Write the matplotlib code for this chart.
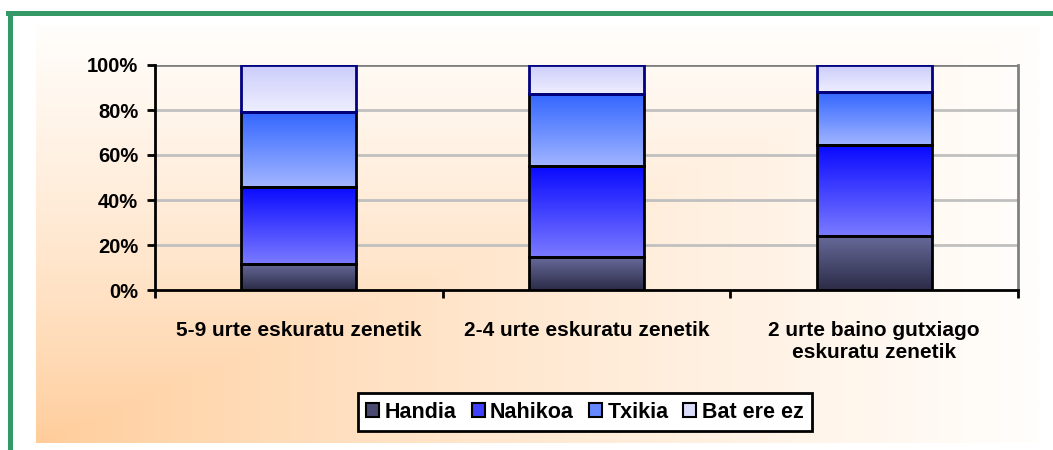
import numpy as np
import matplotlib.pyplot as plt
from matplotlib.patches import Patch
from matplotlib.colors import LinearSegmentedColormap

plt.rcParams['font.family'] = ['Liberation Sans', 'DejaVu Sans']
plt.rcParams['font.weight'] = 'bold'

categories = ['5-9 urte eskuratu zenetik', '2-4 urte eskuratu zenetik',
              '2 urte baino gutxiago\neskuratu zenetik']
series = ['Handia', 'Nahikoa', 'Txikia', 'Bat ere ez']
handia = [11.6, 14.6, 24.2]
nahikoa = [34.4, 40.3, 40.3]
txikia = [33.2, 32.0, 23.6]
bat_ere_ez = [20.8, 13.1, 11.9]
yticks = [0, 20, 40, 60, 80, 100]

# gradient (top colour, bottom colour) and edge per series
grad = {
    'Handia': ('#676a9a', '#2c2c48'),
    'Nahikoa': ('#0a0aff', '#7a7aff'),
    'Txikia': ('#3366ff', '#a0b4ff'),
    'Bat ere ez': ('#cccdfa', '#eeeeff'),
}
edges = {'Handia': 'black', 'Nahikoa': 'black', 'Txikia': 'black', 'Bat ere ez': '#000080'}
mids = {'Handia': '#4a4a70', 'Nahikoa': '#4040ff', 'Txikia': '#6688ff', 'Bat ere ez': '#dcdcfc'}

fig = plt.figure(figsize=(10.53, 4.5), dpi=100)

# background panel with corner gradient
bg = fig.add_axes([36 / 1053, 1 - 443 / 450, (1040 - 36) / 1053, (443 - 25) / 450])
bg.set_axis_off()
xx, yy = np.meshgrid(np.linspace(0, 1, 300), np.linspace(0, 1, 150))
t = np.maximum(xx, 1 - yy)  # row 0 is top
t = t ** 0.8
c0 = np.array([255, 204, 153]) / 255
c1 = np.array([255, 254, 252]) / 255
img = c0[None, None, :] * (1 - t[..., None]) + c1[None, None, :] * t[..., None]
bg.imshow(img, aspect='auto', extent=[0, 1, 0, 1], origin='upper')
bg.set_xlim(0, 1)
bg.set_ylim(0, 1)

# green frame
fig.add_artist(plt.Line2D([9.5 / 1053, 9.5 / 1053], [0, 1 - 12.5 / 450], color='#339966', lw=3.6))
fig.add_artist(plt.Line2D([8 / 1053, 1], [1 - 12.5 / 450, 1 - 12.5 / 450], color='#339966', lw=3.6))

ax = fig.add_axes([155 / 1053, 1 - 290 / 450, (1018 - 155) / 1053, (290 - 65) / 450])
ax.patch.set_alpha(0)
x = np.arange(len(categories))
width = 0.4
bottom = np.zeros(3)
for name, vals in zip(series, [handia, nahikoa, txikia, bat_ere_ez]):
    bars = ax.bar(x, vals, width, bottom=bottom, facecolor='none',
                  edgecolor=edges[name], linewidth=2, zorder=4)
    cmap = LinearSegmentedColormap.from_list(name, [grad[name][1], grad[name][0]])
    for b in bars:
        x0, y0 = b.get_x(), b.get_y()
        ax.imshow(np.linspace(0, 1, 64).reshape(-1, 1), cmap=cmap, aspect='auto',
                  origin='lower', extent=[x0, x0 + b.get_width(), y0, y0 + b.get_height()],
                  zorder=3)
    bottom += np.array(vals)

ax.set_xlim(-0.5, 2.5)
ax.set_ylim(0, 100)
ax.set_yticks(yticks)
ax.set_yticklabels([f'{v}%' for v in yticks], fontsize=14.5, fontweight='bold')
for v in yticks[1:-1]:
    ax.axhline(v, color='#c0c0c0', lw=2, zorder=1)
ax.axhline(100, color='#808080', lw=2, zorder=1)
ax.set_xticks(x)
ax.set_xticklabels(categories, fontsize=15, fontweight='bold', linespacing=1.25)
ax.set_xticks([-0.5, 0.5, 1.5, 2.5], minor=True)
ax.tick_params(axis='x', which='major', length=0, pad=22)
ax.tick_params(axis='x', which='minor', length=6, width=2, direction='out')
ax.tick_params(axis='y', length=6, width=2, direction='out', pad=6)
for s in ['left', 'bottom']:
    ax.spines[s].set_linewidth(2)
    ax.spines[s].set_color('black')
ax.spines['right'].set_color('#808080')
ax.spines['right'].set_linewidth(2)
ax.spines['top'].set_visible(False)

handles = [Patch(facecolor=mids[n], edgecolor='black', linewidth=1.5) for n in series]
leg = fig.legend(handles, series, loc='center', bbox_to_anchor=(585 / 1053, 1 - 412 / 450),
                 ncol=4, frameon=True, fancybox=False, handlelength=0.6,
                 handleheight=0.6, handletextpad=0.25, columnspacing=0.7, borderpad=0.4,
                 borderaxespad=0, prop={'weight': 'bold', 'size': 15.5})
leg.get_frame().set_edgecolor('black')
leg.get_frame().set_linewidth(2)
leg.get_frame().set_facecolor('white')
leg.get_frame().set_alpha(1)

fig.savefig('out.png', dpi=100)
